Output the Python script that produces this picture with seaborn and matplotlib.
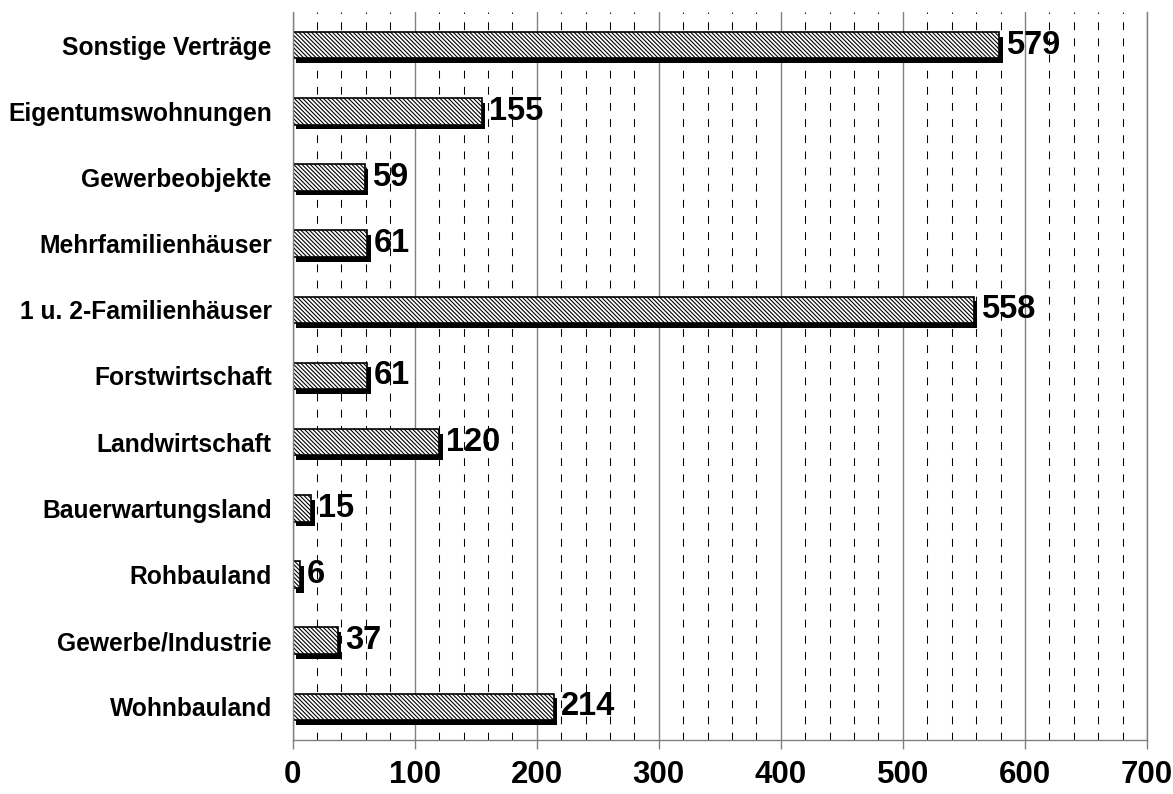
import matplotlib
matplotlib.use("Agg")
import matplotlib.pyplot as plt
import matplotlib.patheffects as pe
from matplotlib.ticker import MultipleLocator
import seaborn as sns
import pandas as pd

# Number of contracts by property category (top to bottom)
categories = [
    "Sonstige Verträge",
    "Eigentumswohnungen",
    "Gewerbeobjekte",
    "Mehrfamilienhäuser",
    "1 u. 2-Familienhäuser",
    "Forstwirtschaft",
    "Landwirtschaft",
    "Bauerwartungsland",
    "Rohbauland",
    "Gewerbe/Industrie",
    "Wohnbauland",
]
counts = [579, 155, 59, 61, 558, 61, 120, 15, 6, 37, 214]
x_ticks = [0, 100, 200, 300, 400, 500, 600, 700]

df = pd.DataFrame({"Kategorie": categories, "Anzahl": counts})

sns.set_theme(style="white")
plt.rcParams["font.family"] = ["Liberation Sans", "DejaVu Sans"]
plt.rcParams["font.weight"] = "bold"
plt.rcParams["text.color"] = "black"
plt.rcParams["xtick.labelcolor"] = "black"
plt.rcParams["ytick.labelcolor"] = "black"
plt.rcParams["hatch.linewidth"] = 0.8
plt.rcParams["hatch.color"] = "black"

fig = plt.figure(figsize=(11.73, 7.94), dpi=100)
ax = fig.add_axes([0.2495, 0.068, 0.9778 - 0.2495, 0.9849 - 0.068])

sns.barplot(
    data=df, x="Anzahl", y="Kategorie", orient="h", ax=ax,
    color="white", edgecolor="black", linewidth=1.2,
    hatch="\\" * 8, width=0.4, saturation=1,
)

# Drop shadow under each bar
for patch in ax.patches:
    patch.set_path_effects([
        pe.SimplePatchShadow(offset=(2.6, -3.4), shadow_rgbFace="black", alpha=1.0),
        pe.Normal(),
    ])

for cont in ax.containers:
    ax.bar_label(cont, labels=[str(v) for v in counts], padding=5,
                 fontsize=23.5, fontweight="bold", color="black")

ax.set_xlim(x_ticks[0], x_ticks[-1])
ax.set_xticks(x_ticks)
ax.xaxis.set_minor_locator(MultipleLocator(20))
ax.set_axisbelow(True)
ax.grid(which="major", axis="x", color="#808080", linewidth=1.0, linestyle="-")
ax.grid(which="minor", axis="x", color="black", linewidth=0.75, linestyle=(0, (7.5, 8)))
ax.grid(which="both", axis="y", visible=False)

ax.set_xlabel("")
ax.set_ylabel("")

for side in ["left", "bottom", "right"]:
    ax.spines[side].set_visible(True)
    ax.spines[side].set_color("#808080")
    ax.spines[side].set_linewidth(1.0)
ax.spines["top"].set_visible(False)

ax.tick_params(axis="x", which="major", direction="out", length=6.5, width=1,
               color="#808080", pad=8, labelsize=22.5, bottom=True)
ax.tick_params(axis="x", which="minor", length=0)
ax.tick_params(axis="y", length=0, pad=15, labelsize=17.7)
for lbl in ax.get_xticklabels() + ax.get_yticklabels():
    lbl.set_fontweight("bold")
    lbl.set_color("black")

fig.savefig("out.png", dpi=100)
